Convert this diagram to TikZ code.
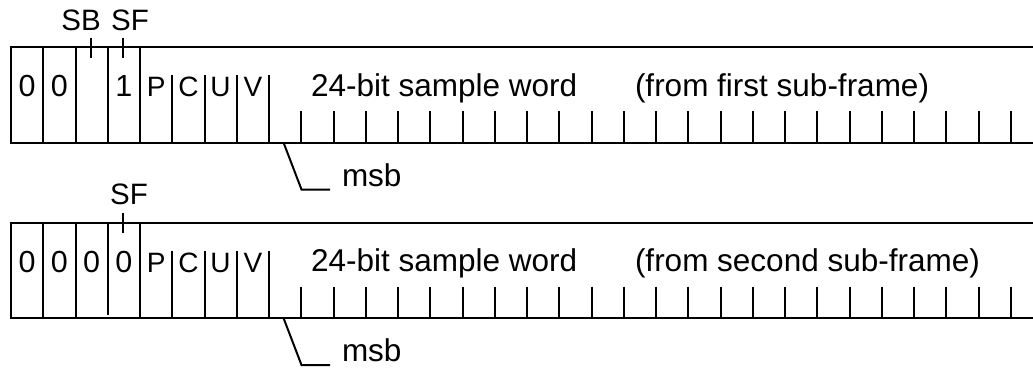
\documentclass[tikz,border=0pt]{standalone}
\usepackage{fontspec}
\setmainfont{Liberation Sans}
\usetikzlibrary{positioning}

\begin{document}
\begin{tikzpicture}[x=1pt,y=-1pt,line width=2pt,
    txt/.style={inner sep=0pt,anchor=base,font=\fontsize{31.5}{36}\selectfont},
    bit/.style={inner sep=0pt,anchor=base,font=\fontsize{30.5}{34}\selectfont},
    flag/.style={inner sep=0pt,anchor=base,font=\fontsize{28}{32}\selectfont},
    sync/.style={inner sep=0pt,anchor=base,font=\fontsize{29.5}{33}\selectfont}]
    \useasboundingbox (0,0) rectangle (1033,367);
    % first sub-frame
    \draw (1034,47) -- (11,47) -- (11,142.5) -- (1034,142.5);
    \foreach \k in {1,...,4} \draw ({11+32.25*\k},47) -- ({11+32.25*\k},142.5);
    \foreach \k in {5,...,8} \draw ({11+32.25*\k},75) -- ({11+32.25*\k},142.5);
    \foreach \k in {9,...,31} \draw ({11+32.25*\k},111) -- ({11+32.25*\k},142.5);
    \node[bit]  (bA0) at (27.1,96.5)  {0};
    \node[bit]  (bA1) at (59.4,96.5)  {0};
    \node[bit]  (bA3) at (123.9,96.5) {1};
    \node[flag] (pA)  at (156.1,96.5) {P};
    \node[flag] (cA)  at (188.4,96.5) {C};
    \node[flag] (uA)  at (220.6,96.5) {U};
    \node[flag] (vA)  at (252.9,96.5) {V};
    \node[txt,anchor=base west] (wordA) at (310,96) {24-bit sample word};
    \node[txt,anchor=base west] (srcA)  at (634,96) {(from first sub-frame)};
    \coordinate (sbtA) at (91,37.5); \coordinate (sftA) at (123,37.5);
    \draw (sbtA) -- ++(0,20.5); \draw (sftA) -- ++(0,20.5);
    \node[sync] (sbA) at (81,30)  {SB};
    \node[sync] (sfA) at (130,30) {SF};
    \coordinate (lsbA) at (283.5,142.5);
    \node[txt,anchor=base west] (msbA) at (341,186) {msb};
    \draw (lsbA) -- ++(18,47) -- ++(28.5,0);
    % second sub-frame
    \draw (1034,222.5) -- (11,222.5) -- (11,318) -- (1034,318);
    \foreach \k in {1,2,4} \draw ({11+32.25*\k},222.5) -- ({11+32.25*\k},318);
    \draw (107.75,222.5) -- (107.75,315);
    \foreach \k in {5,...,8} \draw ({11+32.25*\k},250.5) -- ({11+32.25*\k},318);
    \foreach \k in {9,...,31} \draw ({11+32.25*\k},286.5) -- ({11+32.25*\k},318);
    \node[bit]  (bB0) at (27.1,272)  {0};
    \node[bit]  (bB1) at (59.4,272)  {0};
    \node[bit]  (bB2) at (91.6,272)  {0};
    \node[bit]  (bB3) at (123.9,272) {0};
    \node[flag] (pB)  at (156.1,272) {P};
    \node[flag] (cB)  at (188.4,272) {C};
    \node[flag] (uB)  at (220.6,272) {U};
    \node[flag] (vB)  at (252.9,272) {V};
    \node[txt,anchor=base west] (wordB) at (310,271.5) {24-bit sample word};
    \node[txt,anchor=base west] (srcB)  at (634,271.5) {(from second sub-frame)};
    \coordinate (sftB) at (123,212.5);
    \draw (sftB) -- ++(0,20.5);
    \node[sync] (sfB) at (129,204.5) {SF};
    \coordinate (lsbB) at (283.5,318);
    \node[txt,anchor=base west] (msbB) at (341,361.5) {msb};
    \draw (lsbB) -- ++(18,47) -- ++(28.5,0);
\end{tikzpicture}
\end{document}
